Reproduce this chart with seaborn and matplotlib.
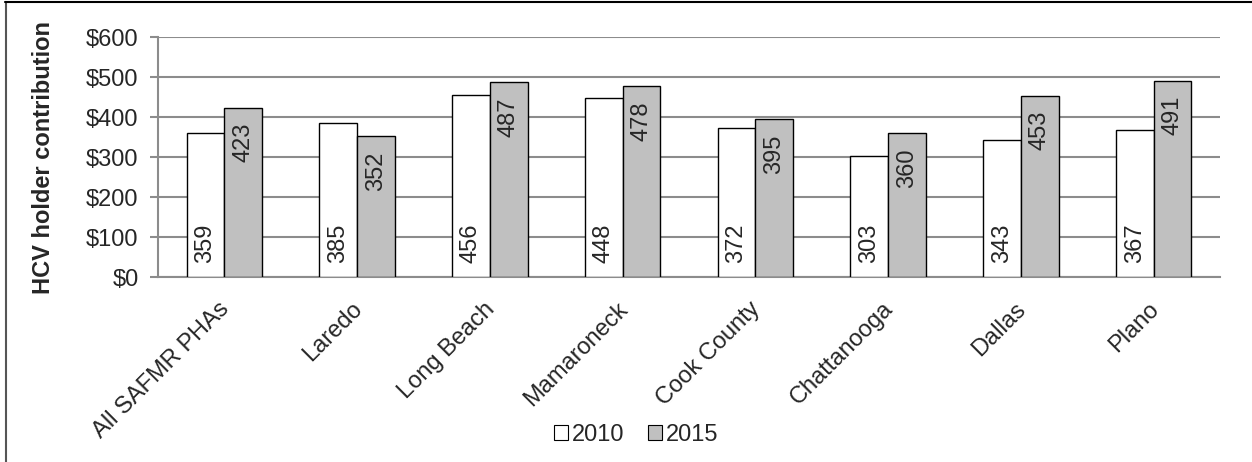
import pandas as pd
import seaborn as sns
import matplotlib.pyplot as plt
import matplotlib.transforms as mtransforms
from matplotlib.lines import Line2D
from matplotlib.patches import Patch

# Dữ liệu
categories = ['All SAFMR PHAs', 'Laredo', 'Long Beach', 'Mamaroneck',
              'Cook County', 'Chattanooga', 'Dallas', 'Plano']
values_2010 = [359, 385, 456, 448, 372, 303, 343, 367]
values_2015 = [423, 352, 487, 478, 395, 360, 453, 491]
years = ['2010', '2015']
yticks = [0, 100, 200, 300, 400, 500, 600]

df = pd.DataFrame({
    'place': categories * 2,
    'value': values_2010 + values_2015,
    'year': [years[0]] * len(categories) + [years[1]] * len(categories),
})

sns.set_style('white')
plt.rcParams['font.family'] = ['Liberation Sans', 'DejaVu Sans']
fs = 17

fig = plt.figure(figsize=(12.52, 4.62), dpi=100)
ax = fig.add_axes([0.1262, 0.4004, 0.8482, 0.5195])

grid_col = '#8c8c8c'
colors = {'2010': 'white', '2015': '#c0c0c0'}
sns.barplot(data=df, x='place', y='value', hue='year', palette=colors,
            width=0.57, edgecolor='black', linewidth=1.0, ax=ax,
            legend=False, zorder=3)

ax.set_ylim(0, 600)
ax.set_xlim(-0.5, len(categories) - 0.5)
ax.set_yticks(yticks)
ax.set_yticklabels([f'${v}' for v in yticks], fontsize=fs)
ax.yaxis.grid(True, color=grid_col, linewidth=1.5, zorder=0)
ax.set_axisbelow(True)

# trục hoành: vạch chia nằm giữa các nhóm, nhãn xoay 45 độ
ax.set_xticks([i - 0.5 for i in range(len(categories) + 1)])
ax.set_xticklabels([])
ax.tick_params(axis='x', length=8, width=1.5, color=grid_col,
               direction='out')
shift = mtransforms.ScaledTranslation(-0.06, -0.21, fig.dpi_scale_trans)
trans = ax.get_xaxis_transform() + shift
for i, name in enumerate(categories):
    ax.text(i, 0, name, rotation=45, ha='right', va='top',
            rotation_mode='anchor', fontsize=fs, transform=trans,
            clip_on=False)

ax.tick_params(axis='y', length=6, width=1.5, color=grid_col,
               direction='out', left=True, pad=8)

for s in ['top', 'right']:
    ax.spines[s].set_visible(False)
for s in ['left', 'bottom']:
    ax.spines[s].set_color(grid_col)
    ax.spines[s].set_linewidth(1.5)

ax.set_xlabel('')
ax.set_ylabel('HCV holder contribution', fontsize=fs, fontweight='bold',
              labelpad=22)

# nhãn giá trị
c2010, c2015 = ax.containers[0], ax.containers[1]
for bar, v in zip(c2010, values_2010):
    ax.annotate(str(v), (bar.get_x() + bar.get_width() / 2, 0),
                xytext=(0, 10), textcoords='offset points', rotation=90,
                ha='center', va='bottom', fontsize=fs, zorder=4)
for bar, v in zip(c2015, values_2015):
    ax.annotate(str(v), (bar.get_x() + bar.get_width() / 2, bar.get_height()),
                xytext=(0, -11), textcoords='offset points', rotation=90,
                ha='center', va='top', fontsize=fs, zorder=4)

handles = [Patch(facecolor=colors[y], edgecolor='black', linewidth=0.8,
                 label=y) for y in years]
fig.legend(handles=handles, loc='center', bbox_to_anchor=(0.508, 0.058),
           ncol=2, frameon=False, fontsize=fs, handlelength=0.6,
           handleheight=0.6, handletextpad=0.15, columnspacing=1.0)

# khung ngoài (chỉ thấy cạnh trái và cạnh trên)
fig.add_artist(Line2D([0.005, 0.005], [0, 0.996], color='#555555',
                      linewidth=1.5, transform=fig.transFigure))
fig.add_artist(Line2D([0.004, 1.0], [0.995, 0.995], color='black',
                      linewidth=1.5, transform=fig.transFigure))

fig.savefig('out.png', dpi=100)
